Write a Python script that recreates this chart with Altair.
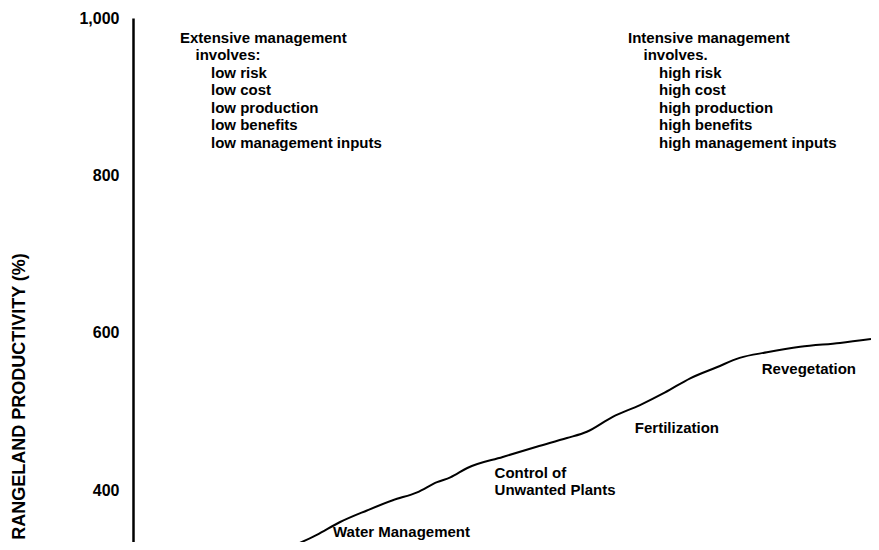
import altair as alt
import pandas as pd

# ---- data ----
# management intensity index (0-100, no printed axis) vs rangeland productivity (%)
intensity = [21.0, 24.9, 28.0, 31.7, 35.2, 38.5, 41.2, 43.0, 45.3, 50.1, 54.7, 58.8,
             61.5, 65.0, 68.7, 72.1, 75.5, 79.1, 82.2, 85.9, 90.4, 95.8, 100.0]
productivity = [326, 343, 359, 374, 387, 397, 410, 416, 428, 442, 455, 466,
                474, 493, 508, 524, 542, 556, 568, 575, 582, 587, 592]

practice_labels = ["Water Management", "Control of", "Unwanted Plants", "Fertilization", "Revegetation"]
practice_x = [27.1, 49.0, 49.0, 68.0, 85.2]
practice_y = [346, 421, 400, 479, 554]

y_ticks = [400, 600, 800, 1000]

extensive_lines = ["Extensive management", "involves:", "low risk", "low cost",
                   "low production", "low benefits", "low management inputs"]
intensive_lines = ["Intensive management", "involves.", "high risk", "high cost",
                   "high production", "high benefits", "high management inputs"]
line_level = [0, 1, 2, 2, 2, 2, 2]

# ---- layout (data units) ----
block_x = {"ext": 6.37, "int": 67.07}
indent = 2.1
first_line_y = 974.6
line_step = 22.25

FONT = "Liberation Sans"
Y_DOMAIN = [333.9, 1000]
X_DOMAIN = [0, 100]

curve_df = pd.DataFrame({"x": intensity, "y": productivity})
lab_df = pd.DataFrame({"x": practice_x, "y": practice_y, "t": practice_labels})

rows = []
for key, lines in (("ext", extensive_lines), ("int", intensive_lines)):
    for i, (t, lv) in enumerate(zip(lines, line_level)):
        rows.append({"x": block_x[key] + lv * indent, "y": first_line_y - i * line_step, "t": t})
block_df = pd.DataFrame(rows)

xs = alt.Scale(domain=X_DOMAIN, nice=False, zero=False)
ys = alt.Scale(domain=Y_DOMAIN, nice=False, zero=False)

line = alt.Chart(curve_df).mark_line(
    color="black", strokeWidth=2, interpolate="monotone", clip=True
).encode(
    x=alt.X("x:Q", scale=xs, axis=None),
    y=alt.Y("y:Q", scale=ys, axis=alt.Axis(
        title="RANGELAND PRODUCTIVITY (%)",
        values=y_ticks, format=",d", grid=False, ticks=False,
        domain=True, domainColor="black", domainWidth=2.5,
        labelFont=FONT, labelFontSize=16, labelFontWeight="bold", labelColor="black",
        labelPadding=14,
        titleFont=FONT, titleFontSize=18, titleFontWeight="bold", titleColor="black",
        titleAngle=270, titleAlign="center", titleBaseline="middle",
        titleX=-114, titleY=378,
    )),
)

labels = alt.Chart(lab_df).mark_text(
    align="left", baseline="middle", font=FONT, fontSize=15, fontWeight="bold", color="black"
).encode(x=alt.X("x:Q", scale=xs), y=alt.Y("y:Q", scale=ys), text="t:N")

blocks = alt.Chart(block_df).mark_text(
    align="left", baseline="middle", font=FONT, fontSize=15, fontWeight="bold", color="black"
).encode(x=alt.X("x:Q", scale=xs), y=alt.Y("y:Q", scale=ys), text="t:N")

chart = (line + labels + blocks).properties(
    width=738, height=524,
    autosize=alt.AutoSizeParams(type="none"),
    padding={"left": 125, "top": 10, "right": 0, "bottom": 0},
    background="white",
).configure_view(stroke=None)

chart.save("out.html", embed_options={"renderer": "svg", "actions": False})
